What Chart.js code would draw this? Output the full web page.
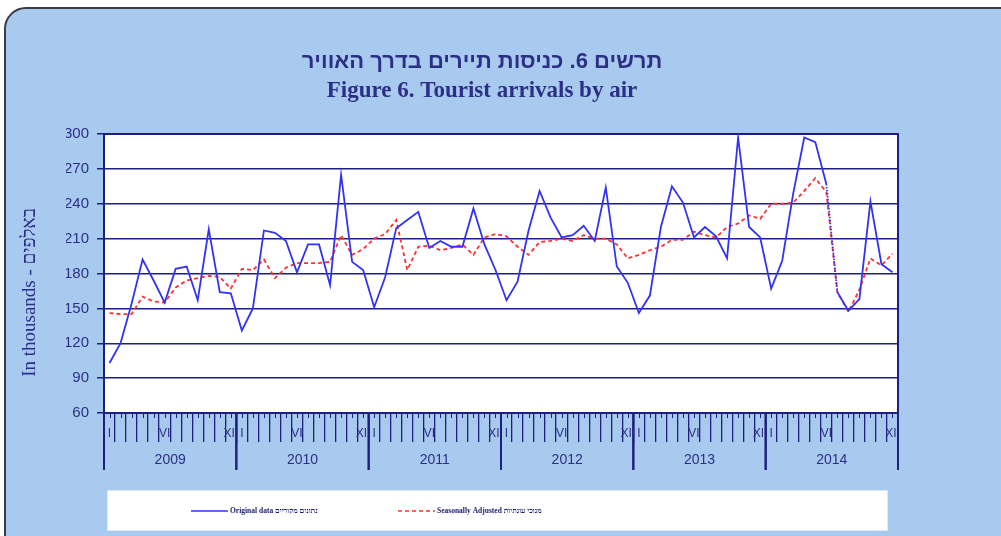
<!DOCTYPE html>
<html>
<head>
<meta charset="utf-8">
<script src="https://cdn.jsdelivr.net/npm/chart.js@4.4.1/dist/chart.umd.min.js"></script>
<style>
  body { margin: 0; background: #fff; overflow: hidden; }
  #frame {
    position: absolute; left: 4px; top: 7px; width: 1030px; height: 570px;
    background: #a9caef; border: 2px solid #3c3c46; border-radius: 22px;
  }
  #chart { position: absolute; left: 0; top: 0; }
</style>
</head>
<body>
<div id="frame"></div>
<canvas id="chart" width="1001" height="536"></canvas>
<script>
// chart data
const years = ['2009', '2010', '2011', '2012', '2013', '2014'];
const months = ['I', 'II', 'III', 'IV', 'V', 'VI', 'VII', 'VIII', 'IX', 'X', 'XI', 'XII'];
const shownMonths = ['I', 'VI', 'XII'];
const yTicks = [60, 90, 120, 150, 180, 210, 240, 270, 300];

// thousands of arrivals, Jan 2009 .. Dec 2014
const original = [
  103, 120, 154, 192, 174, 155, 184, 186, 157, 218, 164, 163,
  131, 150, 217, 215, 208, 181, 205, 205, 170, 265, 190, 183,
  151, 177, 219, 226, 233, 202, 208, 203, 203, 236, 205, 183,
  157, 173, 217, 251, 228, 211, 213, 221, 208, 254, 186, 172,
  146, 161, 220, 255, 241, 211, 220, 212, 193, 297, 220, 211,
  167, 191, 249, 297, 293, 257, 164, 148, 158, 242, 188, 181
];
const adjusted = [
  146, 145, 145, 160, 156, 155, 168, 174, 176, 178, 177, 167,
  184, 183, 192, 176, 185, 189, 189, 189, 190, 213, 196, 201,
  210, 214, 226, 183, 203, 204, 200, 202, 205, 196, 211, 214,
  212, 203, 196, 207, 208, 210, 208, 213, 210, 210, 205, 193,
  196, 200, 203, 209, 209, 216, 213, 211, 220, 223, 230, 227,
  240, 240, 241, 251, 262, 250, 164, 147, 166, 193, 187, 197
];
// segment drawn dotted (preliminary figures)
const dottedFrom = 65;

const labels = years.flatMap(() => months);

const NAVY = '#1e1f82';
const TXT = '#2c2f86';
const SANS = '"Liberation Sans", Arial, sans-serif';
const SERIF = '"Liberation Serif", "Times New Roman", serif';

// white plot area, year ticks/labels and the legend box
const frameParts = {
  id: 'frameParts',
  beforeDraw(chart) {
    const { ctx, chartArea: a } = chart;
    ctx.save();
    ctx.fillStyle = '#fff';
    ctx.fillRect(a.left, a.top, a.right - a.left, a.bottom - a.top);
    ctx.strokeStyle = NAVY;
    ctx.lineWidth = 2;
    ctx.strokeRect(a.left, a.top, a.right - a.left, a.bottom - a.top);

    // legend box
    ctx.fillStyle = '#fff';
    ctx.fillRect(a.left + 3, a.bottom + 77, a.right - a.left - 13, 41);
    ctx.strokeStyle = '#dde8f6';
    ctx.lineWidth = 1;
    ctx.strokeRect(a.left + 3.5, a.bottom + 77.5, a.right - a.left - 14, 40);
    ctx.restore();
  },
  afterDraw(chart) {
    const { ctx, chartArea: a } = chart;
    const xs = chart.scales.x;
    const w = xs.getPixelForValue(1) - xs.getPixelForValue(0);
    ctx.save();
    ctx.strokeStyle = NAVY;
    ctx.fillStyle = TXT;

    // short ticks at month centres
    ctx.lineWidth = 1;
    labels.forEach((m, i) => {
      const x = Math.round(xs.getPixelForValue(i)) + 0.5;
      ctx.beginPath();
      ctx.moveTo(x, a.bottom);
      ctx.lineTo(x, a.bottom + 5);
      ctx.stroke();
    });

    // year separators and year labels
    ctx.lineWidth = 2;
    ctx.font = '14px ' + SANS;
    ctx.textAlign = 'center';
    ctx.textBaseline = 'middle';
    years.forEach((yr, k) => {
      const x0 = xs.getPixelForValue(k * 12) - w / 2;
      const x1 = xs.getPixelForValue(k * 12 + 11) + w / 2;
      [x0, x1].forEach(x => {
        ctx.beginPath();
        ctx.moveTo(x, a.bottom);
        ctx.lineTo(x, a.bottom + 57);
        ctx.stroke();
      });
      ctx.fillText(yr, (x0 + x1) / 2, a.bottom + 47);
    });

    // legend
    const ly = a.bottom + 98;
    const items = [
      { ds: chart.data.datasets[0], x: a.left + 87 },
      { ds: chart.data.datasets[1], x: a.left + 294 }
    ];
    ctx.font = 'bold 7.5px ' + SERIF;
    ctx.textAlign = 'left';
    items.forEach(it => {
      ctx.strokeStyle = it.ds.borderColor;
      ctx.lineWidth = 1.5;
      ctx.setLineDash(it.ds.borderDash || []);
      ctx.beginPath();
      ctx.moveTo(it.x, ly);
      ctx.lineTo(it.x + 37, ly);
      ctx.stroke();
      ctx.setLineDash([]);
      ctx.fillStyle = '#1a1a6e';
      ctx.fillText(it.ds.label, it.x + 39, ly);
    });
    ctx.restore();
  }
};

new Chart(document.getElementById('chart'), {
  type: 'line',
  data: {
    labels: labels,
    datasets: [
      {
        label: 'Original data נתונים מקוריים',
        data: original,
        borderColor: '#3232f5',
        borderWidth: 1.8,
        pointRadius: 0,
        tension: 0,
        segment: {
          borderDash: c => c.p0DataIndex === dottedFrom ? [1.5, 1.5] : undefined
        }
      },
      {
        label: 'Seasonally Adjusted מנוכי עונתיות',
        data: adjusted,
        borderColor: '#ff3030',
        borderWidth: 1.8,
        borderDash: [4, 3],
        pointRadius: 0,
        tension: 0
      }
    ]
  },
  options: {
    responsive: false,
    animation: false,
    layout: { padding: { left: 66, right: 103, top: 0, bottom: 63 } },
    plugins: {
      legend: { display: false },
      tooltip: { enabled: false },
      title: {
        display: true,
        text: 'תרשים 6. כניסות תיירים בדרך האוויר',
        color: TXT,
        font: { family: SANS, size: 22, weight: 'bold' },
        padding: { top: 49, bottom: 0 }
      },
      subtitle: {
        display: true,
        text: 'Figure 6. Tourist arrivals by air',
        color: TXT,
        font: { family: SERIF, size: 23, weight: 'bold' },
        padding: { top: 2, bottom: 29 }
      }
    },
    scales: {
      x: {
        type: 'category',
        offset: true,
        grid: { offset: true, drawOnChartArea: false, color: NAVY, lineWidth: 1.3, tickLength: 29 },
        border: { color: NAVY, width: 2 },
        ticks: {
          autoSkip: false,
          maxRotation: 0,
          padding: -16,
          color: TXT,
          font: { family: SANS, size: 12 },
          callback: function (v) {
            const m = this.getLabelForValue(v);
            return shownMonths.includes(m) ? m : '';
          }
        },
        afterFit: axis => { axis.height = 60; }
      },
      y: {
        min: 60,
        max: 300,
        afterBuildTicks: axis => { axis.ticks = yTicks.map(v => ({ value: v })); },
        grid: { color: NAVY, lineWidth: 1.5, tickLength: 7 },
        border: { color: NAVY, width: 2 },
        ticks: { padding: 8, color: TXT, font: { family: SANS, size: 15 } },
        title: {
          display: true,
          text: 'In thousands - באלפים\u2003\u2003',
          color: TXT,
          font: { family: SERIF, size: 19 },
          padding: { top: -47, bottom: 0 }
        },
        afterFit: axis => { axis.width = 38; }
      }
    }
  },
  plugins: [frameParts]
});
</script>
</body>
</html>
